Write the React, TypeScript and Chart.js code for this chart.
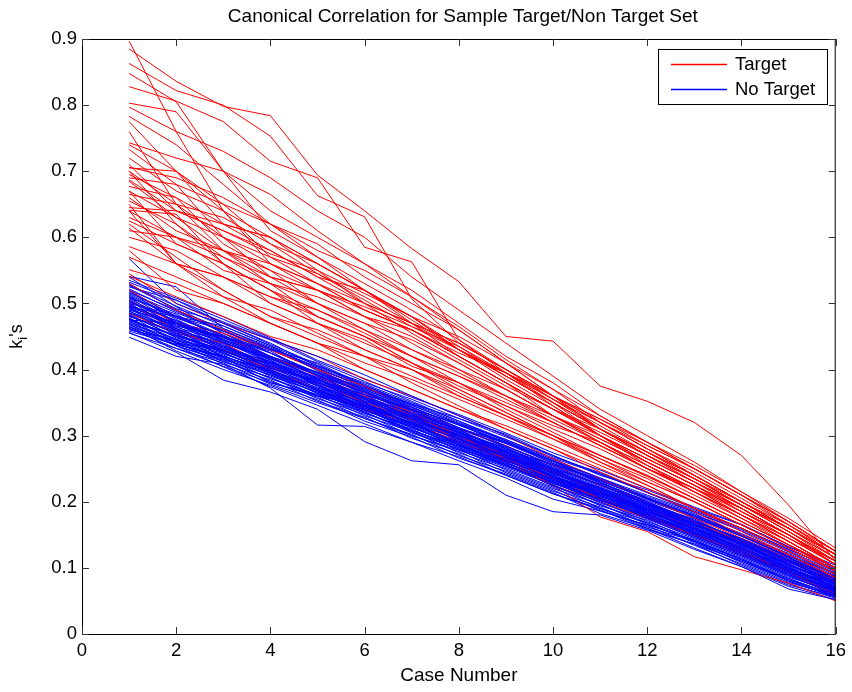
import React, { useEffect, useRef } from "react";
import { Chart, registerables } from "chart.js";

Chart.register(...registerables);

// ---------- labels / ticks ----------
const TITLE = "Canonical Correlation for Sample Target/Non Target Set";
const X_LABEL = "Case Number";
const Y_LABEL_MAIN = "k";
const Y_LABEL_SUB = "i";
const Y_LABEL_TAIL = "'s";
const TARGET_LABEL = "Target";
const NO_TARGET_LABEL = "No Target";
const CASES = [1, 2, 3, 4, 5, 6, 7, 8, 9, 10, 11, 12, 13, 14, 15, 16];
const X_TICKS = [0, 2, 4, 6, 8, 10, 12, 14, 16];
const Y_TICKS = [0, 0.1, 0.2, 0.3, 0.4, 0.5, 0.6, 0.7, 0.8, 0.9];

// ---------- Target (red) series ----------
const T01 = [0.897, 0.760, 0.640, 0.560, 0.520, 0.480, 0.440, 0.400, 0.370, 0.330, 0.290, 0.250, 0.220, 0.190, 0.150, 0.110];
const T02 = [0.885, 0.836, 0.798, 0.784, 0.694, 0.640, 0.583, 0.533, 0.450, 0.443, 0.375, 0.352, 0.320, 0.270, 0.195, 0.110];
const T03 = [0.863, 0.822, 0.800, 0.753, 0.663, 0.631, 0.507, 0.440, 0.400, 0.355, 0.310, 0.275, 0.235, 0.195, 0.155, 0.115];
const T04 = [0.848, 0.805, 0.700, 0.640, 0.600, 0.560, 0.520, 0.470, 0.420, 0.380, 0.330, 0.290, 0.250, 0.210, 0.170, 0.125];
const T05 = [0.828, 0.806, 0.775, 0.715, 0.690, 0.585, 0.563, 0.445, 0.395, 0.345, 0.300, 0.265, 0.230, 0.190, 0.150, 0.105];
const T06 = [0.803, 0.790, 0.700, 0.610, 0.570, 0.520, 0.480, 0.450, 0.410, 0.360, 0.310, 0.270, 0.235, 0.195, 0.160, 0.120];
const T07 = [0.797, 0.760, 0.730, 0.690, 0.640, 0.600, 0.540, 0.490, 0.440, 0.390, 0.340, 0.300, 0.260, 0.215, 0.170, 0.125];
const T08 = [0.783, 0.740, 0.680, 0.620, 0.590, 0.540, 0.500, 0.460, 0.410, 0.360, 0.310, 0.270, 0.230, 0.190, 0.150, 0.105];
const T09 = [0.775, 0.700, 0.620, 0.600, 0.550, 0.500, 0.470, 0.420, 0.380, 0.330, 0.290, 0.250, 0.220, 0.180, 0.140, 0.100];
const T10 = [0.743, 0.720, 0.700, 0.665, 0.610, 0.560, 0.510, 0.460, 0.410, 0.370, 0.330, 0.290, 0.255, 0.215, 0.175, 0.130];
const T11 = [0.733, 0.680, 0.650, 0.590, 0.560, 0.520, 0.470, 0.430, 0.385, 0.345, 0.300, 0.260, 0.225, 0.185, 0.145, 0.105];
const T12 = [0.706, 0.690, 0.660, 0.620, 0.580, 0.550, 0.510, 0.465, 0.415, 0.370, 0.320, 0.280, 0.240, 0.200, 0.160, 0.120];
const T13 = [0.700, 0.650, 0.600, 0.560, 0.530, 0.500, 0.470, 0.440, 0.400, 0.360, 0.320, 0.280, 0.240, 0.200, 0.160, 0.115];
const T14 = [0.687, 0.640, 0.610, 0.580, 0.540, 0.520, 0.480, 0.430, 0.390, 0.350, 0.310, 0.275, 0.240, 0.200, 0.160, 0.120];
const T15 = [0.677, 0.660, 0.590, 0.550, 0.520, 0.480, 0.450, 0.410, 0.370, 0.330, 0.295, 0.260, 0.225, 0.185, 0.150, 0.110];
const T16 = [0.670, 0.630, 0.600, 0.540, 0.500, 0.470, 0.430, 0.400, 0.360, 0.320, 0.285, 0.250, 0.215, 0.180, 0.140, 0.100];
const T17 = [0.655, 0.620, 0.570, 0.530, 0.510, 0.480, 0.460, 0.420, 0.380, 0.340, 0.300, 0.260, 0.225, 0.190, 0.150, 0.110];
const T18 = [0.645, 0.640, 0.620, 0.580, 0.540, 0.500, 0.455, 0.415, 0.375, 0.340, 0.310, 0.270, 0.235, 0.195, 0.155, 0.115];
const T19 = [0.641, 0.635, 0.560, 0.520, 0.490, 0.460, 0.430, 0.395, 0.360, 0.325, 0.290, 0.255, 0.220, 0.180, 0.140, 0.100];
const T20 = [0.630, 0.600, 0.580, 0.550, 0.500, 0.460, 0.420, 0.380, 0.345, 0.310, 0.280, 0.245, 0.210, 0.175, 0.140, 0.100];
const T21 = [0.614, 0.560, 0.540, 0.510, 0.480, 0.450, 0.420, 0.390, 0.355, 0.320, 0.285, 0.250, 0.215, 0.180, 0.145, 0.105];
const T22 = [0.586, 0.560, 0.520, 0.480, 0.460, 0.430, 0.400, 0.370, 0.335, 0.300, 0.270, 0.240, 0.205, 0.170, 0.135, 0.095];
const T23 = [0.551, 0.530, 0.500, 0.470, 0.440, 0.410, 0.385, 0.355, 0.325, 0.295, 0.265, 0.230, 0.200, 0.165, 0.130, 0.095];
const T24 = [0.541, 0.510, 0.480, 0.450, 0.430, 0.400, 0.370, 0.340, 0.310, 0.280, 0.250, 0.220, 0.190, 0.160, 0.125, 0.090];
const T25 = [0.520, 0.480, 0.450, 0.420, 0.390, 0.360, 0.330, 0.300, 0.270, 0.245, 0.215, 0.190, 0.160, 0.130, 0.100, 0.070];
const T26 = [0.500, 0.460, 0.430, 0.400, 0.370, 0.340, 0.320, 0.290, 0.265, 0.235, 0.205, 0.180, 0.150, 0.120, 0.095, 0.060];
const T27 = [0.485, 0.455, 0.440, 0.405, 0.380, 0.350, 0.325, 0.295, 0.260, 0.225, 0.200, 0.175, 0.150, 0.125, 0.095, 0.055];
const T28 = [0.720, 0.670, 0.640, 0.600, 0.560, 0.520, 0.475, 0.430, 0.390, 0.350, 0.310, 0.275, 0.240, 0.200, 0.160, 0.120];
const T29 = [0.705, 0.700, 0.640, 0.570, 0.545, 0.510, 0.470, 0.440, 0.400, 0.360, 0.325, 0.285, 0.250, 0.210, 0.165, 0.120];
const T30 = [0.695, 0.660, 0.620, 0.600, 0.560, 0.520, 0.480, 0.430, 0.395, 0.355, 0.315, 0.275, 0.240, 0.200, 0.160, 0.120];
const T31 = [0.685, 0.630, 0.580, 0.560, 0.530, 0.490, 0.460, 0.425, 0.395, 0.350, 0.300, 0.265, 0.230, 0.195, 0.155, 0.110];
const T32 = [0.665, 0.650, 0.630, 0.590, 0.545, 0.505, 0.465, 0.435, 0.395, 0.355, 0.320, 0.280, 0.245, 0.205, 0.165, 0.120];
const T33 = [0.660, 0.610, 0.580, 0.540, 0.520, 0.495, 0.465, 0.430, 0.395, 0.360, 0.325, 0.290, 0.250, 0.210, 0.170, 0.125];
const T34 = [0.640, 0.600, 0.550, 0.530, 0.500, 0.470, 0.445, 0.410, 0.370, 0.330, 0.295, 0.260, 0.225, 0.190, 0.150, 0.105];
const T35 = [0.625, 0.590, 0.560, 0.520, 0.480, 0.450, 0.410, 0.375, 0.345, 0.315, 0.290, 0.255, 0.220, 0.185, 0.150, 0.110];
const T36 = [0.600, 0.580, 0.540, 0.500, 0.470, 0.440, 0.410, 0.380, 0.350, 0.320, 0.285, 0.250, 0.215, 0.180, 0.145, 0.110];
const T37 = [0.570, 0.540, 0.510, 0.490, 0.455, 0.420, 0.390, 0.360, 0.330, 0.300, 0.270, 0.240, 0.205, 0.170, 0.135, 0.095];
const T38 = [0.740, 0.700, 0.650, 0.620, 0.570, 0.530, 0.490, 0.445, 0.400, 0.360, 0.320, 0.285, 0.250, 0.210, 0.170, 0.125];
const T39 = [0.710, 0.640, 0.610, 0.575, 0.550, 0.515, 0.480, 0.435, 0.390, 0.350, 0.310, 0.270, 0.235, 0.195, 0.160, 0.120];
const T40 = [0.690, 0.680, 0.600, 0.570, 0.530, 0.490, 0.460, 0.420, 0.380, 0.340, 0.305, 0.270, 0.235, 0.200, 0.165, 0.125];
const T41 = [0.650, 0.560, 0.540, 0.510, 0.490, 0.455, 0.420, 0.390, 0.360, 0.330, 0.300, 0.265, 0.230, 0.195, 0.160, 0.120];
const T42 = [0.620, 0.570, 0.520, 0.480, 0.450, 0.420, 0.400, 0.365, 0.330, 0.300, 0.265, 0.235, 0.200, 0.165, 0.130, 0.095];
const T43 = [0.530, 0.490, 0.460, 0.430, 0.400, 0.365, 0.335, 0.300, 0.265, 0.225, 0.177, 0.155, 0.117, 0.097, 0.077, 0.050];
const T44 = [0.580, 0.520, 0.500, 0.470, 0.440, 0.420, 0.380, 0.345, 0.310, 0.280, 0.245, 0.215, 0.185, 0.150, 0.120, 0.085];
const T45 = [0.545, 0.500, 0.470, 0.445, 0.420, 0.385, 0.360, 0.330, 0.300, 0.265, 0.235, 0.205, 0.175, 0.145, 0.115, 0.080];
const T46 = [0.640, 0.560, 0.510, 0.470, 0.440, 0.400, 0.370, 0.340, 0.315, 0.285, 0.255, 0.225, 0.190, 0.160, 0.125, 0.090];
const T47 = [0.700, 0.620, 0.560, 0.520, 0.470, 0.430, 0.400, 0.360, 0.330, 0.295, 0.260, 0.230, 0.200, 0.165, 0.130, 0.095];
const T48 = [0.610, 0.600, 0.570, 0.540, 0.520, 0.490, 0.460, 0.420, 0.380, 0.340, 0.300, 0.255, 0.215, 0.175, 0.135, 0.100];
const T49 = [0.505, 0.470, 0.455, 0.430, 0.400, 0.375, 0.340, 0.310, 0.285, 0.255, 0.225, 0.200, 0.170, 0.140, 0.110, 0.075];
const T50 = [0.760, 0.650, 0.580, 0.530, 0.480, 0.450, 0.410, 0.370, 0.335, 0.300, 0.260, 0.225, 0.190, 0.155, 0.120, 0.085];
const T51 = [0.670, 0.590, 0.560, 0.500, 0.470, 0.445, 0.405, 0.380, 0.340, 0.305, 0.270, 0.238, 0.205, 0.170, 0.135, 0.100];

// ---------- No Target (blue) series ----------
const N01 = [0.568, 0.500, 0.472, 0.445, 0.412, 0.382, 0.352, 0.322, 0.292, 0.262, 0.236, 0.206, 0.178, 0.148, 0.116, 0.082];
const N02 = [0.541, 0.525, 0.462, 0.432, 0.402, 0.372, 0.343, 0.316, 0.290, 0.258, 0.230, 0.200, 0.172, 0.142, 0.110, 0.076];
const N03 = [0.449, 0.420, 0.408, 0.372, 0.316, 0.314, 0.290, 0.268, 0.240, 0.212, 0.190, 0.160, 0.136, 0.110, 0.082, 0.056];
const N04 = [0.456, 0.426, 0.384, 0.366, 0.340, 0.291, 0.262, 0.256, 0.210, 0.185, 0.180, 0.157, 0.128, 0.102, 0.068, 0.052];
const N05 = [0.532, 0.505, 0.476, 0.446, 0.420, 0.392, 0.360, 0.330, 0.300, 0.268, 0.244, 0.214, 0.186, 0.160, 0.128, 0.098];
const N06 = [0.527, 0.492, 0.470, 0.440, 0.405, 0.380, 0.355, 0.326, 0.302, 0.270, 0.240, 0.218, 0.190, 0.165, 0.132, 0.104];
const N07 = [0.522, 0.488, 0.458, 0.430, 0.410, 0.376, 0.346, 0.318, 0.284, 0.256, 0.232, 0.204, 0.180, 0.150, 0.122, 0.090];
const N08 = [0.518, 0.480, 0.466, 0.436, 0.398, 0.370, 0.340, 0.312, 0.288, 0.262, 0.228, 0.200, 0.170, 0.144, 0.114, 0.086];
const N09 = [0.515, 0.478, 0.452, 0.420, 0.396, 0.362, 0.338, 0.308, 0.276, 0.250, 0.226, 0.196, 0.174, 0.140, 0.110, 0.078];
const N10 = [0.512, 0.470, 0.448, 0.428, 0.390, 0.366, 0.332, 0.304, 0.282, 0.246, 0.220, 0.198, 0.166, 0.138, 0.106, 0.074];
const N11 = [0.508, 0.484, 0.444, 0.416, 0.392, 0.358, 0.334, 0.310, 0.272, 0.248, 0.218, 0.190, 0.168, 0.134, 0.104, 0.080];
const N12 = [0.505, 0.466, 0.450, 0.410, 0.384, 0.362, 0.326, 0.300, 0.276, 0.242, 0.222, 0.186, 0.160, 0.136, 0.100, 0.072];
const N13 = [0.502, 0.474, 0.440, 0.418, 0.386, 0.352, 0.330, 0.296, 0.270, 0.244, 0.212, 0.190, 0.162, 0.128, 0.102, 0.070];
const N14 = [0.500, 0.462, 0.436, 0.406, 0.380, 0.356, 0.322, 0.302, 0.266, 0.238, 0.216, 0.184, 0.158, 0.132, 0.098, 0.076];
const N15 = [0.497, 0.470, 0.432, 0.412, 0.376, 0.348, 0.326, 0.292, 0.268, 0.236, 0.208, 0.188, 0.154, 0.126, 0.096, 0.066];
const N16 = [0.494, 0.458, 0.438, 0.402, 0.382, 0.346, 0.318, 0.296, 0.262, 0.240, 0.206, 0.180, 0.156, 0.130, 0.094, 0.068];
const N17 = [0.492, 0.466, 0.428, 0.404, 0.372, 0.350, 0.316, 0.290, 0.264, 0.232, 0.210, 0.178, 0.152, 0.124, 0.092, 0.064];
const N18 = [0.489, 0.452, 0.430, 0.398, 0.376, 0.342, 0.320, 0.288, 0.258, 0.234, 0.202, 0.182, 0.150, 0.120, 0.096, 0.062];
const N19 = [0.486, 0.460, 0.424, 0.400, 0.368, 0.344, 0.312, 0.286, 0.260, 0.228, 0.204, 0.176, 0.148, 0.122, 0.090, 0.066];
const N20 = [0.484, 0.448, 0.426, 0.394, 0.370, 0.338, 0.314, 0.282, 0.254, 0.230, 0.198, 0.174, 0.146, 0.118, 0.088, 0.060];
const N21 = [0.481, 0.455, 0.420, 0.396, 0.364, 0.340, 0.308, 0.284, 0.256, 0.224, 0.200, 0.170, 0.144, 0.116, 0.086, 0.064];
const N22 = [0.478, 0.444, 0.422, 0.390, 0.366, 0.334, 0.310, 0.278, 0.252, 0.226, 0.194, 0.172, 0.140, 0.114, 0.084, 0.058];
const N23 = [0.476, 0.450, 0.416, 0.392, 0.360, 0.336, 0.304, 0.280, 0.248, 0.220, 0.196, 0.166, 0.142, 0.112, 0.082, 0.060];
const N24 = [0.473, 0.440, 0.418, 0.386, 0.362, 0.330, 0.306, 0.274, 0.250, 0.222, 0.190, 0.168, 0.138, 0.110, 0.080, 0.056];
const N25 = [0.470, 0.446, 0.412, 0.388, 0.356, 0.332, 0.300, 0.276, 0.244, 0.216, 0.192, 0.162, 0.140, 0.108, 0.078, 0.058];
const N26 = [0.468, 0.436, 0.414, 0.382, 0.358, 0.326, 0.302, 0.270, 0.246, 0.218, 0.186, 0.164, 0.134, 0.106, 0.076, 0.054];
const N27 = [0.465, 0.442, 0.408, 0.384, 0.352, 0.328, 0.296, 0.272, 0.240, 0.212, 0.188, 0.158, 0.136, 0.104, 0.074, 0.056];
const N28 = [0.462, 0.432, 0.410, 0.378, 0.354, 0.322, 0.298, 0.266, 0.242, 0.214, 0.182, 0.160, 0.130, 0.102, 0.072, 0.052];
const N29 = [0.530, 0.490, 0.455, 0.420, 0.385, 0.350, 0.318, 0.286, 0.256, 0.224, 0.196, 0.168, 0.140, 0.112, 0.084, 0.058];
const N30 = [0.460, 0.445, 0.428, 0.410, 0.388, 0.362, 0.340, 0.318, 0.294, 0.266, 0.242, 0.214, 0.188, 0.160, 0.128, 0.098];
const N31 = [0.510, 0.462, 0.418, 0.380, 0.360, 0.345, 0.330, 0.305, 0.280, 0.250, 0.214, 0.186, 0.158, 0.128, 0.100, 0.072];
const N32 = [0.475, 0.470, 0.450, 0.430, 0.400, 0.368, 0.334, 0.300, 0.265, 0.232, 0.205, 0.176, 0.150, 0.120, 0.090, 0.062];
const N33 = [0.520, 0.470, 0.440, 0.400, 0.368, 0.344, 0.320, 0.300, 0.278, 0.256, 0.234, 0.208, 0.182, 0.150, 0.116, 0.080];
const N34 = [0.495, 0.480, 0.460, 0.425, 0.390, 0.355, 0.330, 0.310, 0.290, 0.262, 0.230, 0.196, 0.165, 0.135, 0.108, 0.088];
const N35 = [0.455, 0.432, 0.405, 0.380, 0.362, 0.340, 0.316, 0.292, 0.266, 0.240, 0.210, 0.184, 0.160, 0.138, 0.110, 0.084];
const N36 = [0.540, 0.495, 0.455, 0.425, 0.395, 0.368, 0.338, 0.306, 0.270, 0.238, 0.206, 0.174, 0.146, 0.118, 0.088, 0.060];
const N37 = [0.483, 0.440, 0.430, 0.408, 0.378, 0.340, 0.308, 0.284, 0.262, 0.236, 0.212, 0.190, 0.164, 0.140, 0.112, 0.086];
const N38 = [0.500, 0.482, 0.452, 0.414, 0.374, 0.346, 0.324, 0.300, 0.274, 0.246, 0.214, 0.182, 0.152, 0.124, 0.098, 0.076];
const N39 = [0.466, 0.428, 0.400, 0.376, 0.350, 0.326, 0.300, 0.278, 0.254, 0.228, 0.202, 0.178, 0.152, 0.124, 0.094, 0.066];
const N40 = [0.525, 0.505, 0.470, 0.438, 0.408, 0.374, 0.344, 0.312, 0.282, 0.252, 0.226, 0.196, 0.170, 0.144, 0.112, 0.082];
const N41 = [0.490, 0.470, 0.445, 0.420, 0.392, 0.366, 0.340, 0.312, 0.284, 0.256, 0.228, 0.202, 0.176, 0.148, 0.118, 0.092];
const N42 = [0.472, 0.452, 0.426, 0.396, 0.368, 0.336, 0.306, 0.280, 0.256, 0.230, 0.204, 0.178, 0.150, 0.122, 0.092, 0.068];
const N43 = [0.513, 0.476, 0.442, 0.410, 0.380, 0.352, 0.326, 0.298, 0.270, 0.240, 0.212, 0.188, 0.160, 0.132, 0.100, 0.070];
const N44 = [0.458, 0.438, 0.420, 0.398, 0.370, 0.344, 0.318, 0.290, 0.262, 0.236, 0.210, 0.182, 0.156, 0.126, 0.096, 0.070];
const N45 = [0.505, 0.458, 0.434, 0.402, 0.384, 0.358, 0.328, 0.294, 0.268, 0.244, 0.220, 0.194, 0.168, 0.138, 0.104, 0.078];
const N46 = [0.535, 0.508, 0.480, 0.448, 0.414, 0.386, 0.358, 0.332, 0.304, 0.274, 0.248, 0.220, 0.192, 0.166, 0.132, 0.100];
const N47 = [0.478, 0.436, 0.404, 0.374, 0.346, 0.318, 0.290, 0.262, 0.236, 0.204, 0.186, 0.165, 0.142, 0.114, 0.080, 0.056];
const N48 = [0.498, 0.460, 0.440, 0.418, 0.396, 0.372, 0.348, 0.326, 0.298, 0.270, 0.242, 0.214, 0.184, 0.158, 0.126, 0.094];
const N49 = [0.510, 0.480, 0.450, 0.425, 0.395, 0.370, 0.342, 0.316, 0.288, 0.258, 0.232, 0.205, 0.178, 0.150, 0.118, 0.086];
const N50 = [0.488, 0.462, 0.436, 0.410, 0.384, 0.356, 0.330, 0.304, 0.276, 0.248, 0.220, 0.194, 0.166, 0.138, 0.106, 0.074];
const N51 = [0.476, 0.446, 0.424, 0.398, 0.370, 0.346, 0.320, 0.294, 0.268, 0.240, 0.214, 0.188, 0.160, 0.132, 0.100, 0.070];
const N52 = [0.503, 0.474, 0.448, 0.420, 0.394, 0.366, 0.338, 0.310, 0.284, 0.254, 0.226, 0.198, 0.172, 0.142, 0.112, 0.082];
const N53 = [0.468, 0.440, 0.415, 0.392, 0.366, 0.342, 0.314, 0.288, 0.262, 0.234, 0.208, 0.182, 0.154, 0.128, 0.098, 0.068];
const N54 = [0.492, 0.456, 0.432, 0.406, 0.380, 0.352, 0.328, 0.300, 0.272, 0.244, 0.216, 0.190, 0.164, 0.136, 0.104, 0.076];
const N55 = [0.516, 0.486, 0.458, 0.432, 0.404, 0.376, 0.348, 0.320, 0.292, 0.262, 0.234, 0.206, 0.180, 0.152, 0.120, 0.088];
const N56 = [0.482, 0.450, 0.430, 0.402, 0.376, 0.350, 0.324, 0.298, 0.270, 0.242, 0.216, 0.190, 0.162, 0.134, 0.102, 0.072];
const N57 = [0.496, 0.468, 0.440, 0.416, 0.388, 0.360, 0.334, 0.306, 0.278, 0.250, 0.222, 0.196, 0.170, 0.140, 0.110, 0.080];
const N58 = [0.462, 0.438, 0.418, 0.394, 0.364, 0.338, 0.312, 0.286, 0.258, 0.232, 0.206, 0.180, 0.152, 0.124, 0.094, 0.064];
const N59 = [0.528, 0.496, 0.466, 0.436, 0.406, 0.378, 0.350, 0.322, 0.294, 0.264, 0.236, 0.210, 0.184, 0.156, 0.124, 0.092];
const N60 = [0.474, 0.452, 0.428, 0.400, 0.372, 0.344, 0.316, 0.290, 0.264, 0.236, 0.210, 0.184, 0.158, 0.130, 0.098, 0.070];
const N61 = [0.507, 0.472, 0.446, 0.418, 0.392, 0.364, 0.336, 0.308, 0.280, 0.252, 0.224, 0.198, 0.170, 0.144, 0.112, 0.084];
const N62 = [0.486, 0.454, 0.428, 0.404, 0.378, 0.348, 0.322, 0.296, 0.268, 0.238, 0.212, 0.186, 0.158, 0.130, 0.100, 0.068];
const N63 = [0.499, 0.464, 0.442, 0.412, 0.386, 0.358, 0.332, 0.304, 0.274, 0.246, 0.218, 0.192, 0.166, 0.136, 0.106, 0.078];
const N64 = [0.470, 0.442, 0.420, 0.396, 0.368, 0.340, 0.312, 0.286, 0.260, 0.230, 0.206, 0.180, 0.154, 0.126, 0.094, 0.066];
const N65 = [0.520, 0.490, 0.462, 0.434, 0.402, 0.374, 0.346, 0.318, 0.290, 0.260, 0.232, 0.204, 0.176, 0.148, 0.116, 0.086];
const N66 = [0.480, 0.458, 0.434, 0.408, 0.382, 0.354, 0.326, 0.300, 0.272, 0.244, 0.218, 0.192, 0.164, 0.136, 0.104, 0.074];
const N67 = [0.494, 0.470, 0.444, 0.414, 0.386, 0.356, 0.330, 0.302, 0.276, 0.248, 0.220, 0.194, 0.168, 0.140, 0.108, 0.080];
const N68 = [0.464, 0.436, 0.412, 0.388, 0.360, 0.334, 0.308, 0.282, 0.256, 0.228, 0.202, 0.176, 0.148, 0.120, 0.090, 0.062];

// drawing order: upper red, first part of blue, low red, rest of blue
const RED_UPPER = [T01, T02, T03, T04, T05, T06, T07, T08, T09, T10, T11, T12, T13, T14, T15, T16, T17, T18, T19, T20, T21, T22, T23, T24, T28, T29, T30, T31, T32, T33, T34, T35, T36, T37, T38, T39, T40, T41, T42, T44, T46, T47, T48, T50, T51];
const RED_LOW = [T25, T26, T27, T43, T45, T49];
const BLUE_A = [N01, N02, N03, N04, N05, N06, N07, N08, N09, N10, N11, N12, N13, N14, N15, N16, N17, N18, N19, N20, N21, N22, N23, N24, N49, N50, N51, N52, N53, N54];
const BLUE_B = [N25, N26, N27, N28, N29, N30, N31, N32, N33, N34, N35, N36, N37, N38, N39, N40, N41, N42, N43, N44, N45, N46, N47, N48, N55, N56, N57, N58, N59, N60, N61, N62, N63, N64, N65, N66, N67, N68];

const RED = "#ff0000";
const BLUE = "#0000ff";
const FAMILY = "'Liberation Sans', Arial, Helvetica, sans-serif";
const FONT_SIZE = 18.5;

function toDataset(values: number[], label: string, color: string) {
  return {
    label,
    data: values.map((v, i) => ({ x: CASES[i], y: v })),
    borderColor: color,
    backgroundColor: color,
    borderWidth: 1,
    pointRadius: 0,
    fill: false,
    tension: 0,
  };
}

const decorPlugin = {
  id: "decor",
  afterDraw(chart: any) {
    const ctx = chart.ctx as CanvasRenderingContext2D;
    const { left, right, top, bottom } = chart.chartArea;
    const xs = chart.scales.x;
    const ys = chart.scales.y;
    ctx.save();
    // frame
    ctx.strokeStyle = "#000";
    ctx.lineWidth = 1;
    ctx.strokeRect(left + 0.5, top + 0.5, right - left - 1, bottom - top);
    // inward ticks
    const TL = 7;
    ctx.strokeStyle = "#333";
    ctx.beginPath();
    X_TICKS.forEach((v) => {
      const px = Math.round(xs.getPixelForValue(v)) + 0.5;
      ctx.moveTo(px, bottom);
      ctx.lineTo(px, bottom - TL);
      ctx.moveTo(px, top);
      ctx.lineTo(px, top + TL);
    });
    Y_TICKS.forEach((v) => {
      const py = Math.round(ys.getPixelForValue(v)) + 0.5;
      ctx.moveTo(left, py);
      ctx.lineTo(left + TL, py);
      ctx.moveTo(right, py);
      ctx.lineTo(right - TL, py);
    });
    ctx.stroke();

    ctx.fillStyle = "#000";
    // title
    ctx.font = `19px ${FAMILY}`;
    ctx.textAlign = "center";
    ctx.textBaseline = "middle";
    ctx.fillText(TITLE, (left + right) / 2 + 4, 17);
    // x label
    ctx.fillText(X_LABEL, (left + right) / 2, 676);

    // y label (k_i's), rotated
    ctx.save();
    ctx.translate(22, (top + bottom) / 2);
    ctx.rotate(-Math.PI / 2);
    ctx.textAlign = "left";
    ctx.textBaseline = "alphabetic";
    const mainFont = `18px ${FAMILY}`;
    const subFont = `13px ${FAMILY}`;
    ctx.font = mainFont;
    const wK = ctx.measureText(Y_LABEL_MAIN).width;
    const wS = ctx.measureText(Y_LABEL_TAIL).width;
    ctx.font = subFont;
    const wI = ctx.measureText(Y_LABEL_SUB).width;
    const x0 = -(wK + wI + wS) / 2;
    ctx.font = mainFont;
    ctx.fillText(Y_LABEL_MAIN, x0, 0);
    ctx.font = subFont;
    ctx.fillText(Y_LABEL_SUB, x0 + wK, 5);
    ctx.font = mainFont;
    ctx.fillText(Y_LABEL_TAIL, x0 + wK + wI, 0);
    ctx.restore();

    // legend box
    const lx = 658, ly = 49, lw = 169, lh = 55;
    ctx.fillStyle = "#fff";
    ctx.fillRect(lx, ly, lw, lh);
    ctx.strokeStyle = "#000";
    ctx.lineWidth = 1;
    ctx.strokeRect(lx + 0.5, ly + 0.5, lw, lh);
    const rows = [
      { label: TARGET_LABEL, color: RED, y: 64 },
      { label: NO_TARGET_LABEL, color: BLUE, y: 89 },
    ];
    rows.forEach((r) => {
      ctx.beginPath();
      ctx.strokeStyle = r.color;
      ctx.lineWidth = 1.3;
      ctx.moveTo(671, r.y + 0.5);
      ctx.lineTo(727, r.y + 0.5);
      ctx.stroke();
      ctx.fillStyle = "#000";
      ctx.font = `${FONT_SIZE}px ${FAMILY}`;
      ctx.textAlign = "left";
      ctx.textBaseline = "middle";
      ctx.fillText(r.label, 735, r.y + 1);
    });
    ctx.restore();
  },
};

export default function App() {
  const canvasRef = useRef<HTMLCanvasElement | null>(null);

  useEffect(() => {
    if (!canvasRef.current) return;
    const datasets = [
      ...RED_UPPER.map((s) => toDataset(s, TARGET_LABEL, RED)),
      ...BLUE_A.map((s) => toDataset(s, NO_TARGET_LABEL, BLUE)),
      ...RED_LOW.map((s) => toDataset(s, TARGET_LABEL, RED)),
      ...BLUE_B.map((s) => toDataset(s, NO_TARGET_LABEL, BLUE)),
    ];
    const chart = new Chart(canvasRef.current, {
      type: "line",
      data: { datasets },
      options: {
        responsive: false,
        animation: false,
        devicePixelRatio: 1,
        layout: { padding: { top: 39, right: 15, left: 0, bottom: 0 } },
        plugins: {
          legend: { display: false },
          title: { display: false },
          tooltip: { enabled: false },
        },
        scales: {
          x: {
            type: "linear",
            min: 0,
            max: 16,
            afterFit: (s: any) => {
              s.height = 58;
            },
            afterBuildTicks: (s: any) => {
              s.ticks = X_TICKS.map((v) => ({ value: v }));
            },
            grid: { display: false, drawTicks: false },
            border: { display: false },
            ticks: {
              padding: 6,
              color: "#000",
              autoSkip: false,
              maxRotation: 0,
              font: { family: FAMILY, size: FONT_SIZE },
              callback: (v: any) => String(v),
            },
          },
          y: {
            type: "linear",
            min: 0,
            max: 0.9,
            afterFit: (s: any) => {
              s.width = 82;
            },
            afterBuildTicks: (s: any) => {
              s.ticks = Y_TICKS.map((v) => ({ value: v }));
            },
            grid: { display: false, drawTicks: false },
            border: { display: false },
            ticks: {
              padding: 5,
              color: "#000",
              autoSkip: false,
              font: { family: FAMILY, size: FONT_SIZE },
              callback: (v: any) => (Number(v) === 0 ? "0" : Number(v).toFixed(1)),
            },
          },
        },
      } as any,
      plugins: [decorPlugin],
    });
    return () => chart.destroy();
  }, []);

  return (
    <div style={{ position: "absolute", left: 0, top: 0, width: 852, height: 692, background: "#fff" }}>
      <canvas ref={canvasRef} width={852} height={692} style={{ display: "block" }} />
    </div>
  );
}
